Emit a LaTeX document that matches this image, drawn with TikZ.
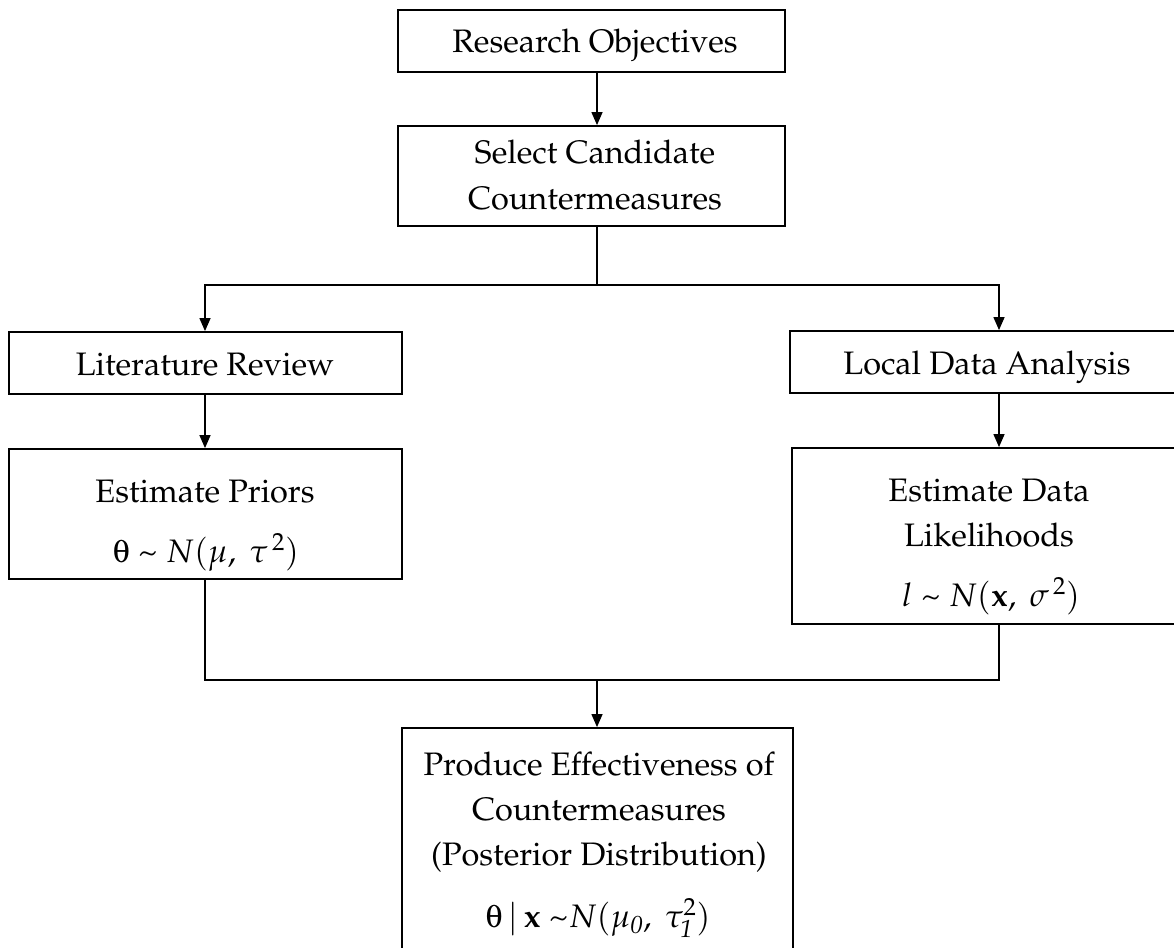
\documentclass[tikz,border=0pt]{standalone}
\usepackage[T1]{fontenc}
\usepackage{mathpazo}
\usepackage{pifont}
\usetikzlibrary{arrows.meta}
% upright theta from the Symbol font
\newcommand{\symtheta}{\Pisymbol{psy}{113}}
% plain text tilde used as "distributed as"
\newcommand{\dist}{\textasciitilde}

\begin{document}
\begin{tikzpicture}[x=1pt,y=-1pt,
  box/.style={draw, line width=1.8pt, inner sep=0pt},
  txt/.style={anchor=base, inner sep=0pt, font=\fontsize{32.5}{39}\selectfont},
  link/.style={line width=1.3pt},
  arr/.style={link, -{Triangle[length=13pt,width=11pt]}}]

\useasboundingbox (0,0) rectangle (1174,947);
\clip (0,0) rectangle (1174,947);

% column guides for the connectors
\coordinate (lx) at (205,0);
\coordinate (cx) at (597,0);
\coordinate (rx) at (999,0);

% boxes
\node[box, minimum width=387pt, minimum height=62pt]  (ro)   at (591.5,41)  {};
\node[box, minimum width=387pt, minimum height=100pt] (sel)  at (591.5,176) {};
\node[box, minimum width=393pt, minimum height=62pt]  (lit)  at (205.5,363) {};
\node[box, minimum width=393pt, minimum height=130pt] (pri)  at (205.5,514) {};
\node[box, minimum width=396pt, minimum height=62pt]  (loc)  at (988,362)   {};
\node[box, minimum width=394pt, minimum height=176pt] (lik)  at (989,536)   {};
\node[box, minimum width=391pt, minimum height=272pt] (prod) at (597.5,864) {};

% box texts
\node[txt] (ro-t)   at (595,53)  {Research Objectives};
\node[txt] (sel-t1) at (595,163) {Select Candidate};
\node[txt] (sel-t2) at (595,209) {Countermeasures};
\node[txt] (lit-t)  at (205,375) {Literature Review};
\node[txt] (pri-t1) at (205,502) {Estimate Priors};
\node[txt] (pri-t2) at (206,562) {\symtheta{} \dist{} $N(\mu,\ \tau^{\,2})$};
\node[txt] (loc-t)  at (987,374) {Local Data Analysis};
\node[txt] (lik-t1) at (989,501) {Estimate Data};
\node[txt] (lik-t2) at (989,546) {Likelihoods};
\node[txt] (lik-t3) at (991,606) {$l$ \dist{} $N(\mathbf{x},\ \sigma^{\,2})$};
\node[txt] (prod-t1) at (599,775) {Produce Effectiveness of};
\node[txt] (prod-t2) at (599,820) {Countermeasures};
\node[txt] (prod-t3) at (599,865) {(Posterior Distribution)};
\node[txt] (prod-t4) at (598,927) {\symtheta\,$|$\,$\mathbf{x}$ \dist$N(\mu_{\mathit{0}},\ \tau_{\mathit{1}}^{2})$};

% connectors
\draw[arr] (ro.south -| cx) -- (sel.north -| cx);
\coordinate (split) at (597,285);
\draw[link] (sel.south -| cx) -- (split);
\draw[arr] (split) -| (lit.north -| lx);
\draw[arr] (split) -| (loc.north -| rx);
\draw[arr] (lit.south -| lx) -- (pri.north -| lx);
\draw[arr] (loc.south -| rx) -- (lik.north -| rx);
\coordinate (join) at (597,680);
\draw[link] (pri.south -| lx) |- (join);
\draw[link] (lik.south -| rx) |- (join);
\draw[arr] (join) -- (prod.north -| cx);
\end{tikzpicture}
\end{document}
